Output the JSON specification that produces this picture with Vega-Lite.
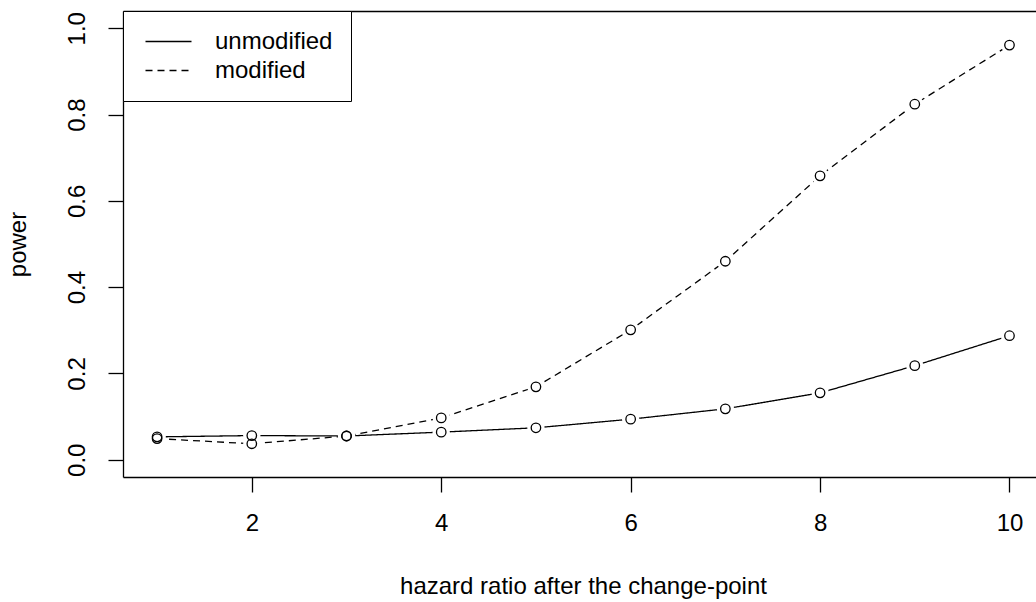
{
  "$schema": "https://vega.github.io/schema/vega-lite/v6.json",
  "autosize": "none",
  "padding": {"left": 123, "top": 11, "right": 0, "bottom": 125},
  "width": 913,
  "height": 466,
  "background": "white",
  "config": {
    "font": "Liberation Sans",
    "view": {"stroke": null},
    "axis": {"grid": false, "domainColor": "black", "domainWidth": 1.3, "tickColor": "black", "tickWidth": 1.3, "labelColor": "black", "titleColor": "black", "labelFontSize": 24, "titleFontSize": 24, "titleFontWeight": "normal", "labelFont": "Liberation Sans", "titleFont": "Liberation Sans"}
  },
  "data": {
    "values": [
      {"x": 1, "power": 0.053, "series": "unmodified"},
      {"x": 2, "power": 0.056, "series": "unmodified"},
      {"x": 3, "power": 0.055, "series": "unmodified"},
      {"x": 4, "power": 0.064, "series": "unmodified"},
      {"x": 5, "power": 0.074, "series": "unmodified"},
      {"x": 6, "power": 0.094, "series": "unmodified"},
      {"x": 7, "power": 0.118, "series": "unmodified"},
      {"x": 8, "power": 0.155, "series": "unmodified"},
      {"x": 9, "power": 0.218, "series": "unmodified"},
      {"x": 10, "power": 0.2875, "series": "unmodified"},
      {"x": 1, "power": 0.049, "series": "modified"},
      {"x": 2, "power": 0.037, "series": "modified"},
      {"x": 3, "power": 0.055, "series": "modified"},
      {"x": 4, "power": 0.097, "series": "modified"},
      {"x": 5, "power": 0.169, "series": "modified"},
      {"x": 6, "power": 0.301, "series": "modified"},
      {"x": 7, "power": 0.460, "series": "modified"},
      {"x": 8, "power": 0.658, "series": "modified"},
      {"x": 9, "power": 0.824, "series": "modified"},
      {"x": 10, "power": 0.961, "series": "modified"}
    ]
  },
  "resolve": {"axis": {"x": "independent"}},
  "layer": [
    {
      "mark": {"type": "line", "color": "black", "strokeWidth": 1.3},
      "encoding": {
        "x": {"field": "x", "type": "quantitative", "scale": {"domain": [0.64, 10.28], "nice": false, "zero": false},
          "axis": {"orient": "bottom", "values": [2, 4, 6, 8, 10], "tickSize": 15, "labelPadding": 19, "title": "hazard ratio after the change-point", "titleX": 460, "titleY": 116, "titleBaseline": "alphabetic", "titleAnchor": "middle", "titleAlign": "center"}},
        "y": {"field": "power", "type": "quantitative", "scale": {"domain": [-0.04, 1.04], "nice": false, "zero": false},
          "axis": {"values": [0, 0.2, 0.4, 0.6, 0.8, 1.0], "format": ".1f", "tickSize": 15, "labelAngle": 270, "labelAlign": "center", "labelBaseline": "alphabetic", "labelPadding": 24, "title": "power", "titleAngle": 270, "titleBaseline": "alphabetic", "titleAlign": "center", "titleX": -98, "titleY": 233}},
        "strokeDash": {"field": "series", "type": "nominal",
          "scale": {"domain": ["unmodified", "modified"], "range": [[1, 0], [7, 5]]},
          "legend": {"orient": "top-left", "offset": 0, "title": null, "padding": 18, "strokeColor": "black", "fillColor": "white", "cornerRadius": 0,
            "symbolType": "M-2,0L2,0", "symbolSize": 529, "symbolStrokeWidth": 1.3, "symbolStrokeColor": "black", "symbolOffset": 15,
            "labelFontSize": 24, "labelFont": "Liberation Sans", "labelColor": "black", "labelOffset": 34, "rowPadding": 4}}
      }
    },
    {
      "mark": {"type": "point", "shape": "circle", "filled": true, "color": "white", "size": 300, "opacity": 1},
      "encoding": {
        "x": {"field": "x", "type": "quantitative", "axis": {"orient": "top", "labels": false, "ticks": false, "title": null}},
        "y": {"field": "power", "type": "quantitative"}
      }
    },
    {
      "mark": {"type": "point", "shape": "circle", "filled": false, "color": "black", "strokeWidth": 1.3, "size": 90, "opacity": 1},
      "encoding": {
        "x": {"field": "x", "type": "quantitative", "axis": null},
        "y": {"field": "power", "type": "quantitative"}
      }
    }
  ]
}
